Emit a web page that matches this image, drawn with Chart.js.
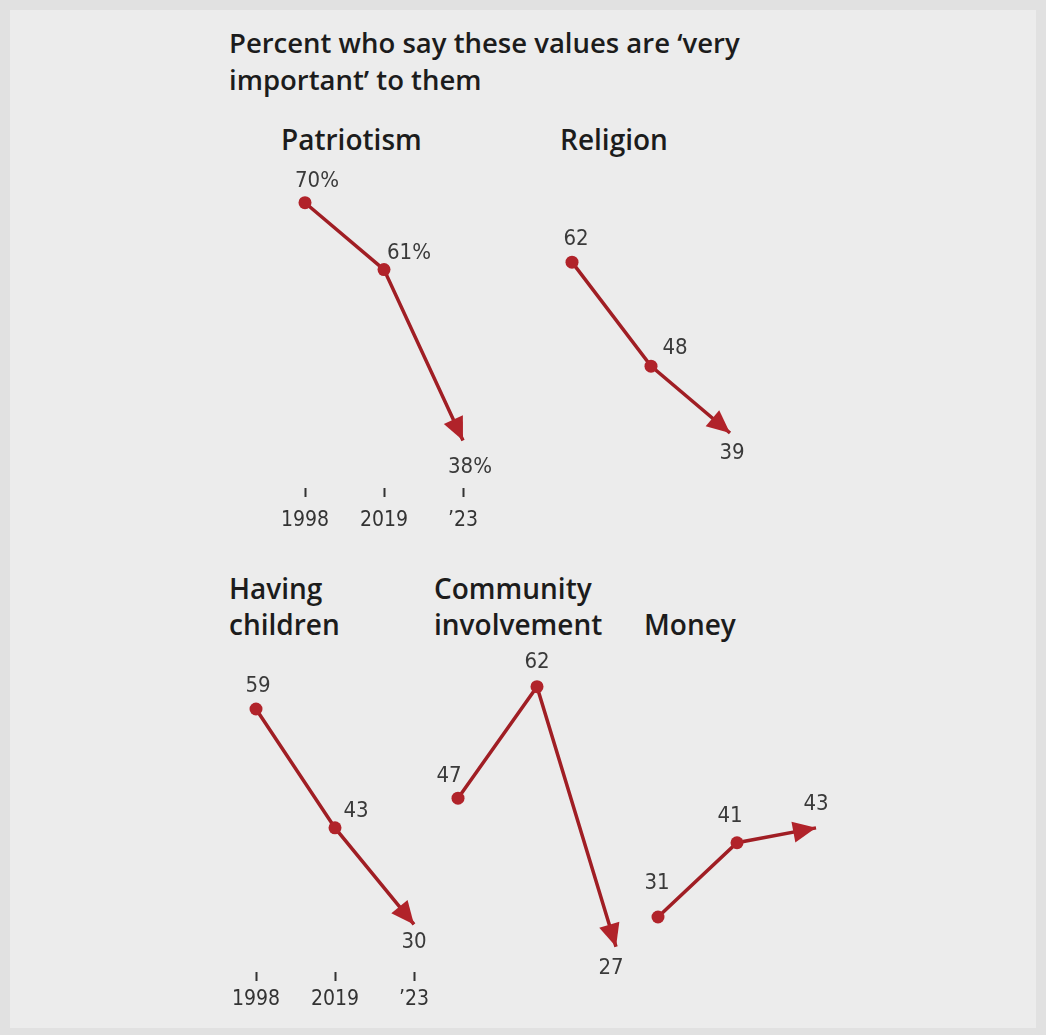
<!DOCTYPE html>
<html>
<head>
<meta charset="utf-8">
<script src="https://cdn.jsdelivr.net/npm/chart.js@4.4.1/dist/chart.umd.min.js"></script>
<style>
    html, body { margin: 0; padding: 0; background: #e1e1e1; }
    #page {
        position: relative; width: 1046px; height: 1035px; overflow: hidden;
        background: #e1e1e1;
    }
    #panel {
        position: absolute; left: 10px; top: 10px; width: 1026px; height: 1018px;
        background: #ececec;
    }
    .txt {
        position: absolute; margin: 0; color: #1c1c1c;
        font-family: "Open Sans", "Noto Sans", sans-serif; font-weight: 600;
    }
    #title { left: 229px; top: 24px; font-size: 27.5px; line-height: 37px; }
    .head { font-size: 28px; line-height: 36px; }
    canvas.mini { position: absolute; }
</style>
</head>
<body>
<div id="page">
    <div id="panel"></div>
    <p id="title" class="txt">Percent who say these values are ‘very<br>important’ to them</p>
    <p class="txt head" style="left:281px; top:121px;">Patriotism</p>
    <p class="txt head" style="left:560px; top:121px;">Religion</p>
    <p class="txt head" style="left:229px; top:570px;">Having<br>children</p>
    <p class="txt head" style="left:434px; top:570px;">Community<br>involvement</p>
    <p class="txt head" style="left:644px; top:606px;">Money</p>

    <canvas id="cPatriotism" class="mini"></canvas>
    <canvas id="cReligion" class="mini"></canvas>
    <canvas id="cChildren" class="mini"></canvas>
    <canvas id="cCommunity" class="mini"></canvas>
    <canvas id="cMoney" class="mini"></canvas>
</div>

<script>
// anos (eixo x) e valores de cada painel
const years = ['1998', '2019', '’23'];
const patriotism = [70, 61, 38];
const religion = [62, 48, 39];
const havingChildren = [59, 43, 30];
const community = [47, 62, 27];
const money = [31, 41, 43];

const RED = '#b1232a';
const LINE = '#a01e24';
const CANVAS_W = 248;
const CANVAS_H = 389;

// faixa do eixo y por linha (mesma escala px/unidade nas duas)
const topRange = { min: 31.6, max: 74 };
const bottomRange = { min: 23.6, max: 66 };

// ponta de seta no último ponto
const arrowPlugin = {
    id: 'arrowHead',
    afterDatasetsDraw(chart) {
        const pts = chart.getDatasetMeta(0).data;
        const tip = pts[pts.length - 1];
        const prev = pts[pts.length - 2];
        const ang = Math.atan2(tip.y - prev.y, tip.x - prev.x);
        const len = 23, half = 10.5;
        const c = chart.ctx;
        c.save();
        c.translate(tip.x, tip.y);
        c.rotate(ang);
        c.beginPath();
        c.moveTo(0, 0);
        c.lineTo(-len, -half);
        c.lineTo(-len, half);
        c.closePath();
        c.fillStyle = RED;
        c.fill();
        c.restore();
    }
};

// rótulos de valor junto aos pontos
const valueLabels = {
    id: 'valueLabels',
    afterDatasetsDraw(chart, args, opts) {
        const pts = chart.getDatasetMeta(0).data;
        const vals = chart.data.datasets[0].data;
        const c = chart.ctx;
        c.save();
        c.font = '22px "DejaVu Sans Condensed", "DejaVu Sans", sans-serif';
        c.fillStyle = '#3a3a3a';
        c.textAlign = 'center';
        c.textBaseline = 'middle';
        pts.forEach((p, i) => {
            const [dx, dy] = opts.offsets[i];
            c.fillText(vals[i] + opts.suffix, p.x + dx, p.y + dy);
        });
        c.restore();
    }
};

const makePanel = (id, left, top, values, range, showAxis, tickPad, offsets, suffix) => {
    const el = document.getElementById(id);
    el.style.left = left + 'px';
    el.style.top = top + 'px';
    el.style.width = CANVAS_W + 'px';
    el.style.height = CANVAS_H + 'px';
    const axisColor = showAxis ? '#333' : 'rgba(0,0,0,0)';

    return new Chart(el.getContext('2d'), {
        type: 'line',
        data: {
            labels: years,
            datasets: [{
                data: values,
                borderColor: LINE,
                borderWidth: 3.5,
                backgroundColor: RED,
                pointBackgroundColor: RED,
                pointBorderWidth: 0,
                pointRadius: [6.5, 6.5, 0],
                tension: 0,
                clip: false
            }]
        },
        options: {
            animation: false,
            responsive: false,
            maintainAspectRatio: false,
            events: [],
            layout: { padding: { left: 40, right: 50, top: 30, bottom: 0 } },
            scales: {
                x: {
                    offset: false,
                    border: { display: false },
                    grid: {
                        drawOnChartArea: false, drawTicks: true,
                        tickLength: 9, tickWidth: 2, tickColor: axisColor
                    },
                    ticks: {
                        color: axisColor, padding: tickPad, maxRotation: 0, autoSkip: false,
                        font: { family: '"DejaVu Sans Condensed", "DejaVu Sans", sans-serif', size: 21 }
                    },
                    afterFit: (scale) => { scale.height = 44; }
                },
                y: { display: false, min: range.min, max: range.max }
            },
            plugins: {
                legend: { display: false },
                tooltip: { enabled: false },
                valueLabels: { offsets, suffix }
            }
        },
        plugins: [arrowPlugin, valueLabels]
    });
};

makePanel('cPatriotism', 265, 143, patriotism, topRange, true, 11,
    [[12, -21], [25, -16], [7, 27]], '%');
makePanel('cReligion', 532, 143, religion, topRange, false, 11,
    [[4, -23], [24, -18], [2, 20]], '');
makePanel('cChildren', 216, 627, havingChildren, bottomRange, true, 6,
    [[2, -23], [21, -17], [0, 18]], '');
makePanel('cCommunity', 418, 627, community, bottomRange, false, 6,
    [[-9, -22], [0, -24], [-5, 22]], '');
makePanel('cMoney', 618, 627, money, bottomRange, false, 6,
    [[-1, -34], [-7, -26], [0, -24]], '');
</script>
</body>
</html>
